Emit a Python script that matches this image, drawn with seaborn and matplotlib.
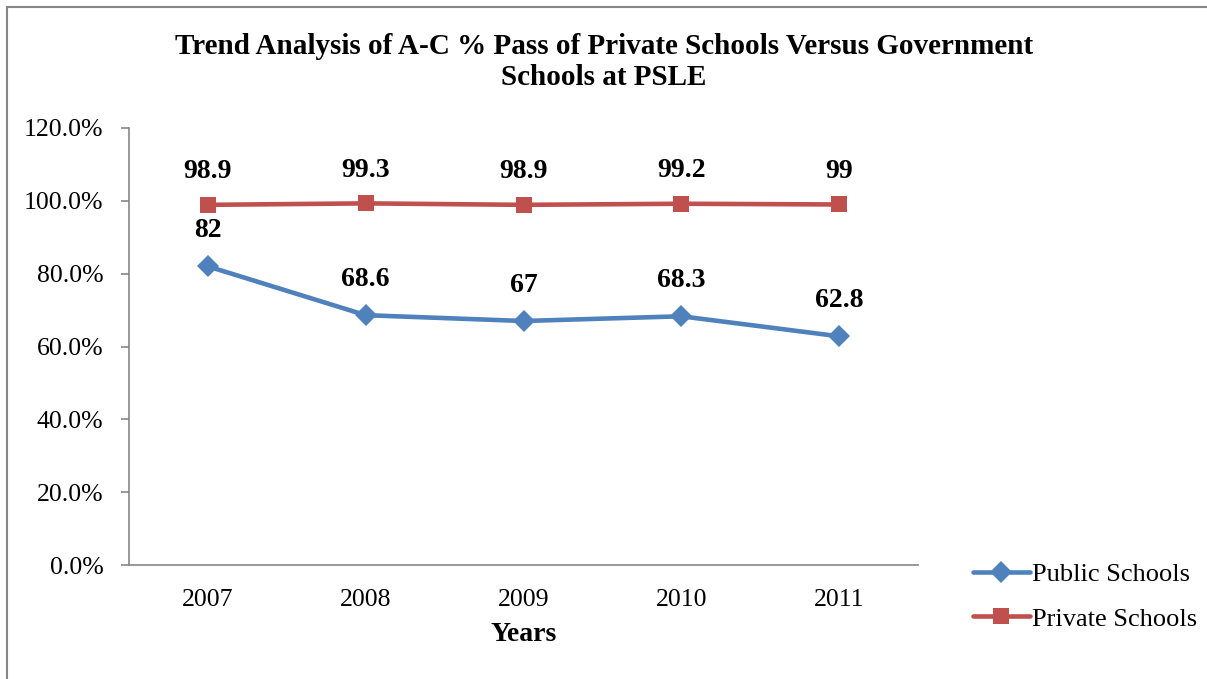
import matplotlib
matplotlib.use("Agg")
import matplotlib.pyplot as plt
import seaborn as sns
import pandas as pd
from matplotlib.patches import Rectangle
from matplotlib.lines import Line2D

years = ["2007", "2008", "2009", "2010", "2011"]
public_schools = [82, 68.6, 67, 68.3, 62.8]
private_schools = [98.9, 99.3, 98.9, 99.2, 99]
public_labels = ["82", "68.6", "67", "68.3", "62.8"]
private_labels = ["98.9", "99.3", "98.9", "99.2", "99"]
series_names = ["Public Schools", "Private Schools"]
y_ticks = [0, 20, 40, 60, 80, 100, 120]

sns.set_theme(style="white")
plt.rcParams["font.family"] = ["Liberation Serif", "DejaVu Serif"]
plt.rcParams["text.color"] = "black"
plt.rcParams["axes.labelcolor"] = "black"
plt.rcParams["xtick.color"] = "black"
plt.rcParams["ytick.color"] = "black"

rows = []
for i, y in enumerate(years):
    rows.append({"pos": i, "val": public_schools[i], "series": series_names[0]})
    rows.append({"pos": i, "val": private_schools[i], "series": series_names[1]})
df = pd.DataFrame(rows)

fig = plt.figure(figsize=(12.07, 6.79), dpi=100)
ax = fig.add_axes([129/1207, 1-565/679, (918-129)/1207, (565-128)/679])

palette = {series_names[0]: "#4F81BD", series_names[1]: "#C0504D"}
markers = {series_names[0]: "D", series_names[1]: "s"}
sns.lineplot(data=df, x="pos", y="val", hue="series", style="series",
             markers=markers, dashes=False, palette=palette, ax=ax,
             linewidth=3.3, markersize=11.5, markeredgewidth=0, legend=False)

for i in range(len(years)):
    ax.annotate(public_labels[i], (i, public_schools[i]), xytext=(0, 25.5),
                textcoords="offset points", ha="center", va="center",
                fontsize=20, fontweight="bold", color="black")
    ax.annotate(private_labels[i], (i, private_schools[i]), xytext=(0, 24),
                textcoords="offset points", ha="center", va="center",
                fontsize=20, fontweight="bold", color="black")

ax.set_xlim(-0.5, len(years) - 0.5)
ax.set_ylim(0, 120)
ax.set_yticks(y_ticks)
ax.set_yticklabels([f"{v:.1f}%" for v in y_ticks], fontsize=18.5)
ax.set_xticks(range(len(years)))
ax.set_xticklabels(years, fontsize=18.5)
ax.set_xticks([i - 0.5 for i in range(len(years) + 1)], minor=True)
ax.tick_params(axis="x", which="major", length=0, pad=17.5)
ax.tick_params(axis="x", which="minor", length=6, width=1.2, color="#868686", direction="out")
ax.tick_params(axis="y", which="major", length=6, width=1.2, color="#868686", direction="out", pad=12.5, left=True)
ax.set_xlabel("Years", fontsize=20, fontweight="bold", labelpad=8)
ax.set_ylabel("")
for s in ["top", "right"]:
    ax.spines[s].set_visible(False)
for s in ["left", "bottom"]:
    ax.spines[s].set_color("#868686")
    ax.spines[s].set_linewidth(1.2)

fig.text(604/1207, 1-62/679, "Trend Analysis of A-C % Pass of Private Schools Versus Government\nSchools at PSLE",
         ha="center", va="center", fontsize=21, fontweight="bold", linespacing=1.2)

handles = [Line2D([], [], color=palette[n], marker=markers[n], linewidth=3.3, markersize=11.5, markeredgewidth=0)
           for n in series_names]
fig.legend(handles, series_names, loc="upper left", bbox_to_anchor=(973/1207, 1-563/679),
           frameon=False, fontsize=19, handlelength=2.15, handletextpad=0.1, labelspacing=0.78,
           borderpad=0, borderaxespad=0)

fig.patches.append(Rectangle((7/1207, -0.1), 1.2, 1 - 7/679 + 0.1, transform=fig.transFigure,
                             fill=False, edgecolor="#868686", linewidth=1.5))

fig.savefig("out.png", dpi=100)
